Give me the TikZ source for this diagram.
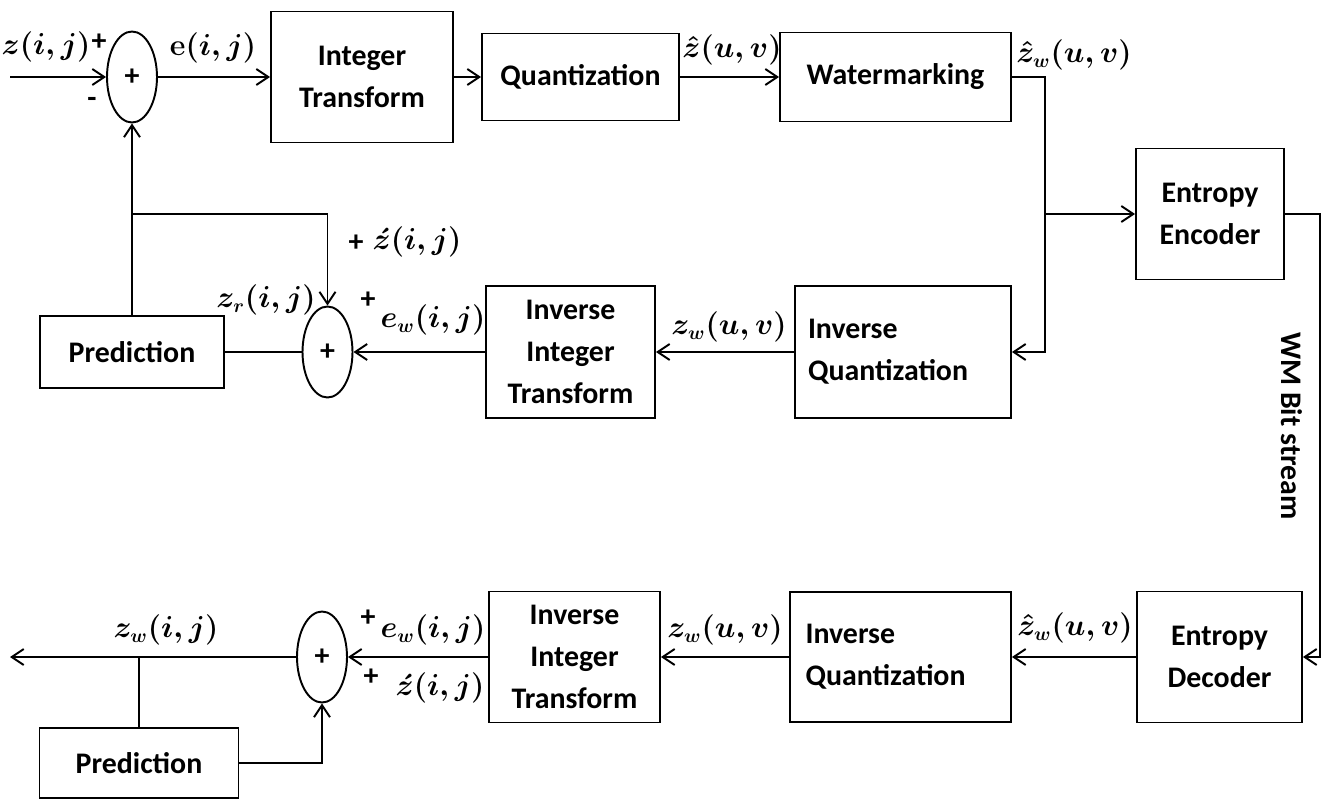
\documentclass[tikz,border=0pt]{standalone}
\usepackage{amsmath,amssymb}
\usepackage[no-math]{fontspec}
\setmainfont{Carlito}
\usepackage{tikz}
\usetikzlibrary{shapes.geometric, arrows.meta}
\tikzstyle{block} = [rectangle, text centered, draw=black, fill=white, align=center, inner sep=2pt, font=\fontsize{17}{24}\selectfont\bfseries]
\tikzstyle{adder} = [ellipse, minimum width=1cm, minimum height=1.82cm, inner sep=0pt, draw=black, fill=white, font=\fontsize{17}{20}\selectfont\bfseries]
\tikzstyle{lbl} = [inner sep=1pt, font=\fontsize{16}{20}\selectfont\boldmath]
\tikzstyle{sgn} = [inner sep=1pt, font=\fontsize{17}{20}\selectfont\bfseries]
\tikzstyle{arrow} = [->, >={Straight Barb[length=2.4mm,width=3.2mm]}]

\begin{document}
\begin{tikzpicture}[x=0.02cm, y=-0.02cm, line width=1.1pt]
		\useasboundingbox (0,0) rectangle (1323,799);

		\node (add1) [adder] at (132,77) {+};
		\node (intT) [block, minimum width=3.64cm, minimum height=2.62cm] at (362,77) {Integer\\Transform};
		\node (quant) [block, minimum width=3.94cm, minimum height=1.74cm] at (580.5,77) {Quantization};
		\node (wm) [block, minimum width=4.62cm, minimum height=1.78cm] at (895.5,77) {Watermarking};
		\node (enc) [block, minimum width=2.96cm, minimum height=2.62cm] at (1210,214) {Entropy\\Encoder};
		\node (invq1) [block, minimum width=4.32cm, minimum height=2.64cm, text width=3.8cm, align=left] at (903,352) {Inverse\\Quantization};
		\node (invit1) [block, minimum width=3.38cm, minimum height=2.64cm] at (570.5,352) {Inverse\\Integer\\Transform};
		\node (add2) [adder] at (327.5,352) {+};
		\node (pred1) [block, minimum width=3.68cm, minimum height=1.44cm] at (132,352) {Prediction};
		\node (dec) [block, minimum width=3.3cm, minimum height=2.62cm] at (1219.5,657) {Entropy\\Decoder};
		\node (invq2) [block, minimum width=4.42cm, minimum height=2.6cm, text width=3.8cm, align=left] at (900.5,657) {Inverse\\Quantization};
		\node (invit2) [block, minimum width=3.42cm, minimum height=2.62cm] at (574.5,657) {Inverse\\Integer\\Transform};
		\node (add3) [adder] at (322,657) {+};
		\node (pred2) [block, minimum width=3.98cm, minimum height=1.4cm] at (139,763) {Prediction};

		\coordinate (in) at (10,77);
		\coordinate (out) at (10,657);
		\coordinate (split) at (1045,214);
		\coordinate (bend) at (1320,214);
		\coordinate (fb) at (132,214);
		\coordinate (tap) at (139,657);

		\node (lz) [lbl] at (46,47) {$z(i,j)$};
		\node (lzp) [sgn] at (99,42) {+};
		\node (lzm) [sgn] at (92,102) {-};
		\node (le) [lbl] at (213,48) {$\mathrm{e}(i,j)$};
		\node (lzh) [lbl] at (732,50) {$\hat{z}(u,v)$};
		\node (lzhw1) [lbl] at (1074,55) {$\hat{z}_w(u,v)$};
		\node (lp1) [sgn] at (356,243) {+};
		\node (lza1) [lbl] at (417,242) {$\acute{z}(i,j)$};
		\node (lzr) [lbl] at (266,300) {$z_r(i,j)$};
		\node (lp2) [sgn] at (368,300) {+};
		\node (lew1) [lbl] at (433,320) {$e_w(i,j)$};
		\node (lzw1) [lbl] at (729,327) {$z_w(u,v)$};
		\node (lbits) [sgn, rotate=-90] at (1292,426) {WM Bit stream};
		\node (lzhw2) [lbl] at (1075,628) {$\hat{z}_w(u,v)$};
		\node (lzw2) [lbl] at (725,630) {$z_w(u,v)$};
		\node (lp3) [sgn] at (368,618) {+};
		\node (lew2) [lbl] at (433,630) {$e_w(i,j)$};
		\node (lp4) [sgn] at (371,677) {+};
		\node (lza2) [lbl] at (440,688) {$\acute{z}(i,j)$};
		\node (lzw3) [lbl] at (166,630) {$z_w(i,j)$};

		\draw [arrow] (in) -- (add1);
		\draw [arrow] (add1) -- (intT);
		\draw [arrow] (intT) -- (quant);
		\draw [arrow] (quant) -- (wm);
		\draw [arrow] (wm.east) -| (split) |- (invq1.east);
		\draw [arrow] (split) -- (enc);
		\draw [arrow] (enc.east) -- (bend) |- (dec.east);
		\draw [arrow] (dec) -- (invq2);
		\draw [arrow] (invq2) -- (invit2);
		\draw [arrow] (invit2) -- (add3);
		\draw [arrow] (add3) -- (out);
		\draw [arrow] (invq1) -- (invit1);
		\draw [arrow] (invit1) -- (add2);
		\draw (add2) -- (pred1);
		\draw [arrow] (pred1) -- (add1);
		\draw [arrow] (fb) -| (add2);
		\draw (tap) -- (pred2);
		\draw [arrow] (pred2) -| (add3);
	\end{tikzpicture}
\end{document}
